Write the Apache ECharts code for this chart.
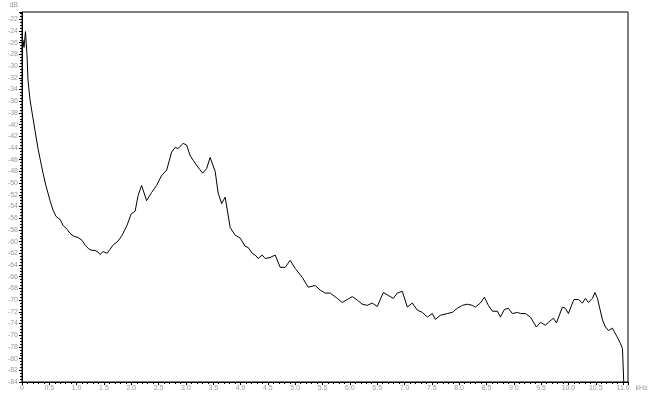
<!DOCTYPE html>
<html>
<head>
<meta charset="utf-8">
<script src="https://cdn.jsdelivr.net/npm/echarts@6/dist/echarts.min.js"></script>
<style>
html,body{margin:0;padding:0;background:#fff;}
#c{width:655px;height:395px;}
</style>
</head>
<body>
<div id="c"></div>
<script>
// Frequency (kHz)
const freqKHz = [
  0, 0.018, 0.037, 0.064, 0.092, 0.110, 0.147, 0.201, 0.238, 0.293, 0.330, 0.385, 0.440, 0.513,
  0.568, 0.623, 0.696, 0.751, 0.824, 0.879, 0.952, 1.026, 1.099, 1.154, 1.227, 1.282, 1.337,
  1.392, 1.429, 1.484, 1.557, 1.612, 1.667, 1.758, 1.832, 1.923, 1.996, 2.070, 2.125, 2.189,
  2.280, 2.372, 2.463, 2.555, 2.647, 2.738, 2.802, 2.857, 2.949, 3.013, 3.077, 3.132, 3.223,
  3.306, 3.379, 3.443, 3.471, 3.535, 3.590, 3.654, 3.718, 3.810, 3.901, 3.993, 4.084, 4.139,
  4.212, 4.267, 4.322, 4.396, 4.451, 4.542, 4.634, 4.725, 4.817, 4.908, 5.000, 5.128, 5.238,
  5.366, 5.458, 5.549, 5.641, 5.769, 5.861, 5.952, 6.044, 6.136, 6.227, 6.319, 6.410, 6.502,
  6.612, 6.703, 6.795, 6.868, 6.960, 7.051, 7.143, 7.234, 7.326, 7.418, 7.509, 7.564, 7.656,
  7.784, 7.875, 7.967, 8.059, 8.150, 8.242, 8.297, 8.388, 8.462, 8.535, 8.608, 8.700, 8.755,
  8.828, 8.901, 8.974, 9.066, 9.121, 9.212, 9.304, 9.414, 9.487, 9.579, 9.634, 9.725, 9.780,
  9.890, 9.945, 10.000, 10.073, 10.101, 10.183, 10.256, 10.311, 10.366, 10.440, 10.485, 10.531,
  10.623, 10.678, 10.733, 10.806, 10.833, 10.897, 10.952, 10.989, 11.007, 11.012
];
// Level (dB)
const levelDB = [
  -27.3, -25.6, -26.8, -24.1, -28.2, -32.4, -35.8, -38.9, -41.0, -44.1, -45.8, -48.3, -50.5, -53.0,
  -54.6, -55.7, -56.2, -57.2, -57.9, -58.6, -59.1, -59.3, -59.8, -60.6, -61.3, -61.5, -61.5,
  -61.8, -62.2, -61.7, -62.0, -61.3, -60.6, -59.9, -58.9, -57.2, -55.3, -54.8, -52.1, -50.4,
  -53.0, -51.6, -50.4, -48.7, -47.8, -44.7, -43.9, -44.1, -43.2, -43.5, -45.3, -46.1, -47.3,
  -48.3, -47.5, -45.6, -45.6, -48.0, -51.7, -53.5, -52.4, -57.6, -58.9, -59.4, -60.8, -61.0,
  -62.0, -62.3, -62.9, -62.3, -62.9, -62.7, -62.3, -64.4, -64.4, -63.2, -64.6, -66.1, -67.8,
  -67.5, -68.3, -68.8, -68.8, -69.7, -70.4, -69.9, -69.4, -70.0, -70.7, -70.9, -70.5, -71.1,
  -68.7, -69.2, -69.7, -68.8, -68.5, -71.2, -70.5, -71.7, -72.1, -72.9, -72.3, -73.3, -72.6,
  -72.3, -72.1, -71.4, -70.9, -70.7, -70.9, -71.2, -70.5, -69.5, -70.9, -71.9, -71.9, -72.9,
  -71.6, -71.4, -72.3, -72.1, -72.3, -72.3, -72.9, -74.6, -73.8, -74.3, -73.8, -73.1, -73.9,
  -71.2, -71.4, -72.3, -70.5, -69.9, -69.9, -70.5, -69.7, -70.4, -69.7, -68.7, -69.7,
  -73.4, -74.6, -75.2, -74.8, -75.3, -76.4, -77.4, -78.3, -78.3, -84.0
];
const xMin = 0, xMax = 11.09, xStep = 0.5;
const yMin = -84, yMax = -20.75, yStep = 2;

const chart = echarts.init(document.getElementById('c'), null, {renderer: 'canvas'});
const labelStyle = {color: '#9a9a9a', fontSize: 7, fontFamily: 'Liberation Sans, Arial, sans-serif'};
chart.setOption({
  animation: false,
  backgroundColor: '#fff',
  grid: {left: 22, right: 27, top: 12, bottom: 13, show: true, borderColor: '#000', borderWidth: 1},
  xAxis: {
    type: 'value', min: xMin, max: xMax, interval: xStep,
    name: 'kHz', nameLocation: 'end', nameGap: 2,
    nameTextStyle: Object.assign({}, labelStyle, {align: 'left', verticalAlign: 'top', padding: [3, 0, 0, 0]}),
    axisLine: {show: true, lineStyle: {color: '#000', width: 1}},
    axisTick: {show: true, inside: false, length: 3, lineStyle: {color: '#000'}},
    minorTick: {show: true, splitNumber: 5, length: 2, lineStyle: {color: '#000'}},
    splitLine: {show: false},
    axisLabel: Object.assign({}, labelStyle, {margin: 3, showMaxLabel: false,
      formatter: v => v === 0 ? '0' : v.toFixed(1)})
  },
  yAxis: {
    type: 'value', min: yMin, max: yMax, interval: yStep,
    name: 'dB', nameLocation: 'end', nameGap: 3,
    nameTextStyle: Object.assign({}, labelStyle, {align: 'right', padding: [0, 4, 0, 0]}),
    axisLine: {show: true, lineStyle: {color: '#000', width: 1}},
    axisTick: {show: true, inside: false, length: 3, lineStyle: {color: '#000'}},
    minorTick: {show: true, splitNumber: 4, length: 2, lineStyle: {color: '#000'}},
    splitLine: {show: false},
    axisLabel: Object.assign({}, labelStyle, {margin: 4, showMaxLabel: false})
  },
  series: [{
    type: 'line',
    data: freqKHz.map((f, i) => [f, levelDB[i]]),
    showSymbol: false,
    lineStyle: {color: '#000', width: 1},
    clip: true
  }]
});
</script>
</body>
</html>
